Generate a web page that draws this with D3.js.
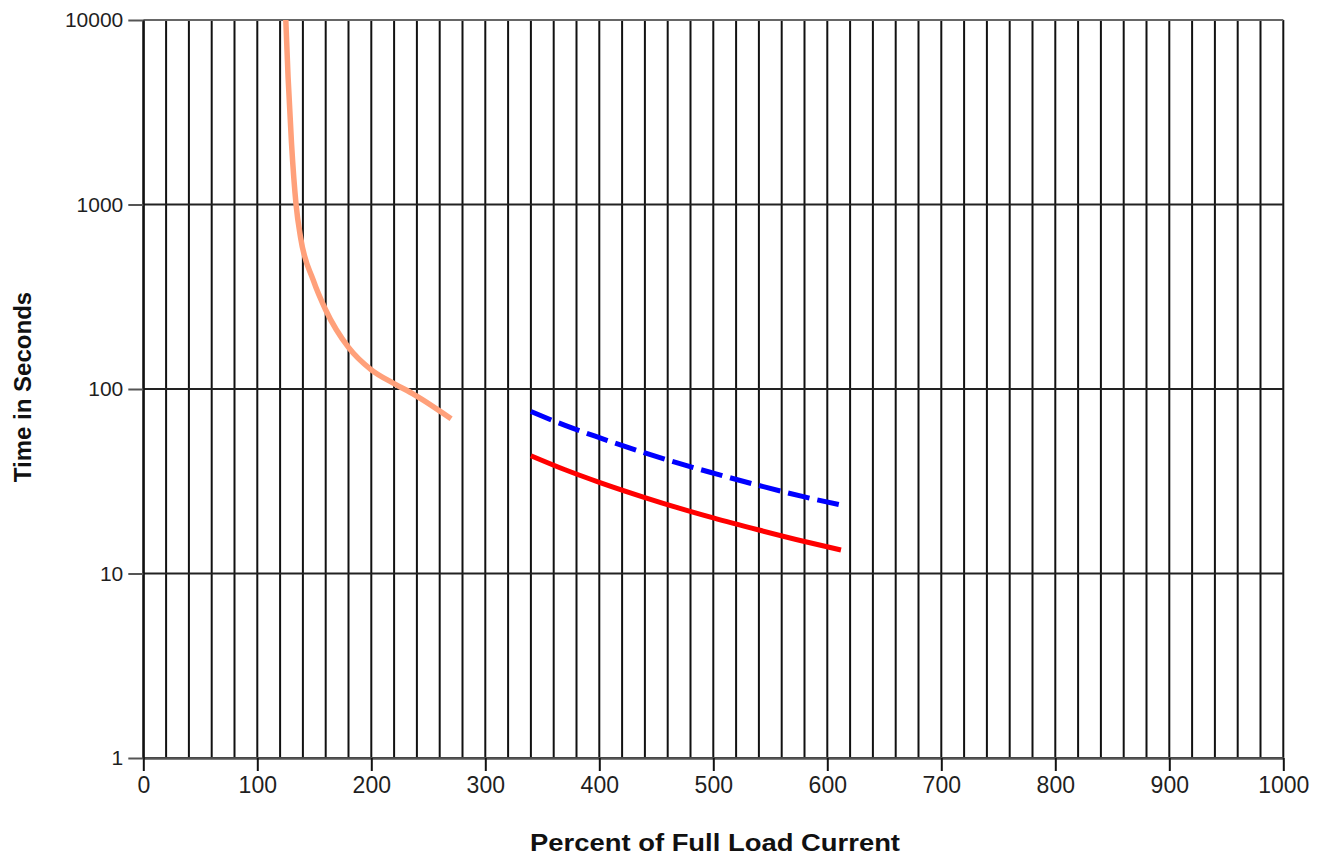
<!DOCTYPE html>
<html>
<head>
<meta charset="utf-8">
<script src="https://cdn.jsdelivr.net/npm/d3@7"></script>
<style>
  body { margin: 0; background: #fff; }
  svg { display: block; font-family: "Liberation Sans", Arial, sans-serif; }
</style>
</head>
<body>
<svg id="chart"></svg>
<script>
const WIDTH = 1323;
const HEIGHT = 858;
const PAD_LEFT = 143.3; // y-axis labels live left of this
const PAD_TOP = 20;
const PLOT_W = 1140;
const PLOT_H = 738;

// tick labels
const xTicks = [0, 100, 200, 300, 400, 500, 600, 700, 800, 900, 1000];
const yTicks = [1, 10, 100, 1000, 10000];

// overload curve (salmon): [percent, seconds]
const overloadX = [125, 127, 130, 134, 138, 149, 160, 180, 200, 220, 238, 270];
const overloadY = [10000, 4900, 2150, 1000, 660, 390, 268, 168, 127, 107, 93, 69];

// dashed blue curve
const upperX = [340, 370, 400, 440, 470, 500, 540, 580, 614];
const upperY = [75.5, 63.5, 54.5, 45, 39.5, 35, 30, 26, 23.4];

// solid red curve
const lowerX = [340, 370, 400, 440, 470, 500, 540, 580, 612];
const lowerY = [43.5, 36.5, 31.2, 25.8, 22.6, 20, 17.2, 14.9, 13.4];

const svg = d3.select("#chart")
  .attr("width", WIDTH)
  .attr("height", HEIGHT);

const x = d3.scaleLinear().domain([0, 1000]).range([PAD_LEFT, PAD_LEFT + PLOT_W]);
const y = d3.scaleLog().domain([1, 10000]).range([PAD_TOP + PLOT_H, PAD_TOP]);

// vertical grid every 20%
svg.append("g")
  .selectAll("line")
  .data(d3.range(0, 1001, 20))
  .enter()
  .append("line")
  .attr("x1", d => x(d)).attr("x2", d => x(d))
  .attr("y1", PAD_TOP).attr("y2", PAD_TOP + PLOT_H)
  .attr("stroke", "#111")
  .attr("stroke-width", 2);

// horizontal grid at decades
svg.append("g")
  .selectAll("line")
  .data(yTicks)
  .enter()
  .append("line")
  .attr("x1", PAD_LEFT).attr("x2", PAD_LEFT + PLOT_W)
  .attr("y1", d => y(d)).attr("y2", d => y(d))
  .attr("stroke", d => d === 10000 ? "#666" : "#222")
  .attr("stroke-width", 2);

// x axis
const xAxis = svg.append("g")
  .attr("transform", "translate(0," + (PAD_TOP + PLOT_H) + ")")
  .call(d3.axisBottom(x).tickValues(xTicks).tickSize(13).tickSizeOuter(0).tickPadding(6).tickFormat(d3.format("d")));
xAxis.select(".domain").attr("stroke", "#555").attr("stroke-width", 2.5);
xAxis.selectAll(".tick line").attr("stroke", "#111").attr("stroke-width", 2);
xAxis.selectAll(".tick text")
  .attr("font-size", 23)
  .attr("fill", "#1f1f1f")
  .attr("font-family", "Liberation Sans, Arial, sans-serif");

// y axis
const yAxis = svg.append("g")
  .attr("transform", "translate(" + PAD_LEFT + ",0)")
  .call(d3.axisLeft(y).tickValues(yTicks).tickSize(15).tickSizeOuter(0).tickPadding(5).tickFormat(d3.format("d")));
yAxis.select(".domain").attr("stroke", "#111").attr("stroke-width", 2);
yAxis.selectAll(".tick line").attr("stroke", "#555").attr("stroke-width", 2);
yAxis.selectAll(".tick text")
  .attr("font-size", 21)
  .attr("fill", "#1f1f1f")
  .attr("font-family", "Liberation Sans, Arial, sans-serif");

// curves
const line = d3.line()
  .x(d => x(d[0]))
  .y(d => y(d[1]))
  .curve(d3.curveMonotoneX);

svg.append("path")
  .datum(d3.zip(overloadX, overloadY))
  .attr("d", line)
  .attr("fill", "none")
  .attr("stroke", "#ffa07a")
  .attr("stroke-width", 5.5);

svg.append("path")
  .datum(d3.zip(upperX, upperY))
  .attr("d", line)
  .attr("fill", "none")
  .attr("stroke", "#0000ff")
  .attr("stroke-width", 5)
  .attr("stroke-dasharray", "22,8");

svg.append("path")
  .datum(d3.zip(lowerX, lowerY))
  .attr("d", line)
  .attr("fill", "none")
  .attr("stroke", "#ff0000")
  .attr("stroke-width", 5);

// axis titles
svg.append("text")
  .attr("x", 715)
  .attr("y", 851)
  .attr("text-anchor", "middle")
  .attr("font-weight", "bold")
  .attr("font-size", 24)
  .attr("textLength", 370)
  .attr("lengthAdjust", "spacingAndGlyphs")
  .attr("fill", "#111")
  .text("Percent of Full Load Current");

svg.append("text")
  .attr("transform", "translate(31,387) rotate(-90)")
  .attr("text-anchor", "middle")
  .attr("font-weight", "bold")
  .attr("font-size", 24)
  .attr("fill", "#111")
  .text("Time in Seconds");
</script>
</body>
</html>
